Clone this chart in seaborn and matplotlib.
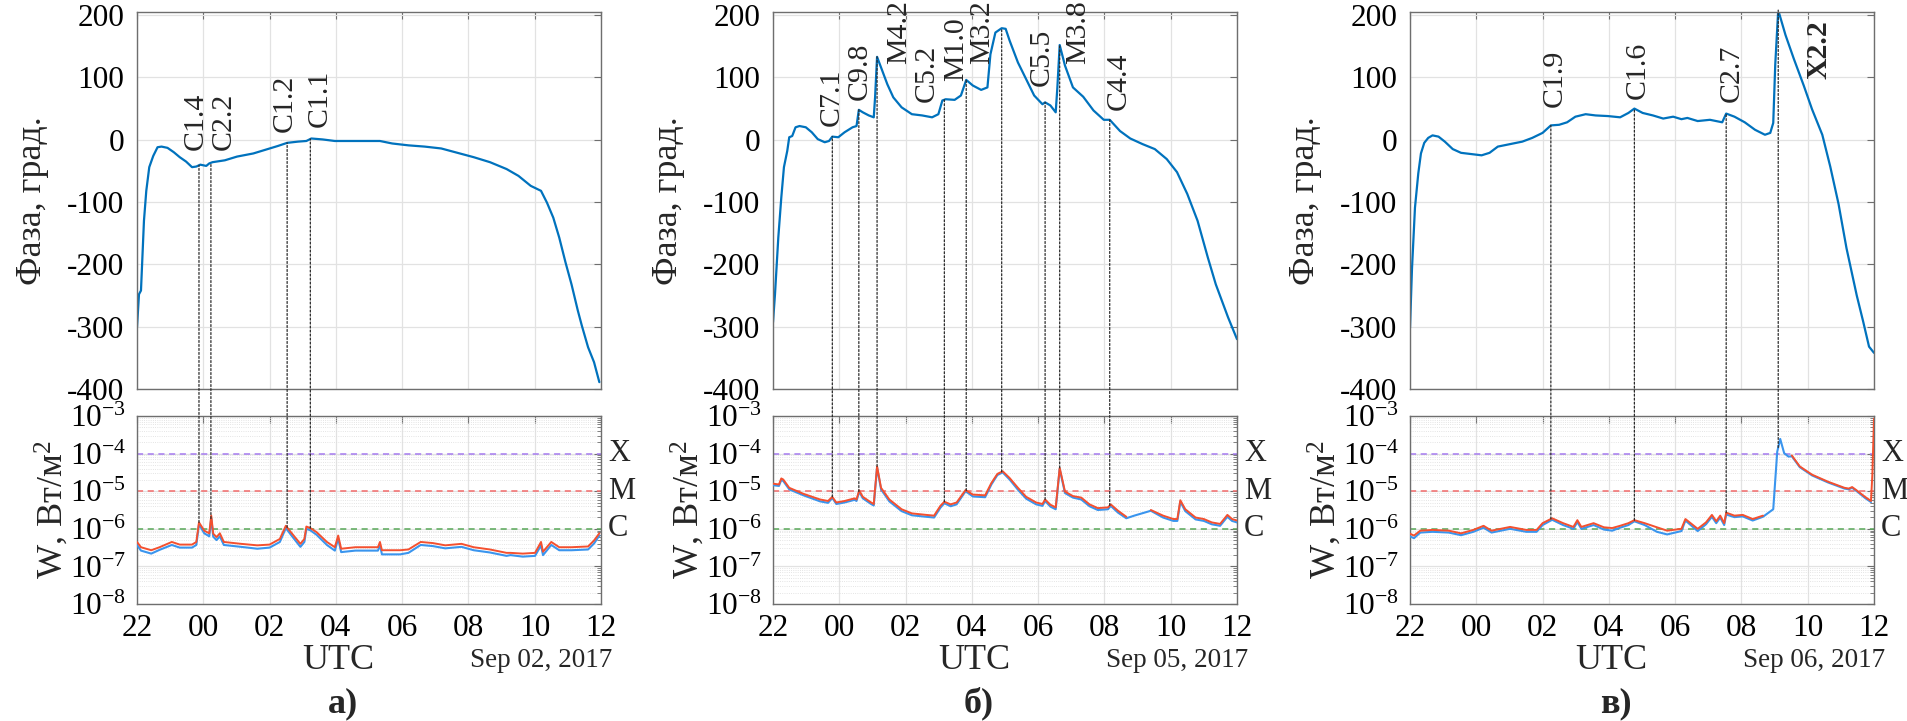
import numpy as np
import pandas as pd
import matplotlib
matplotlib.use("Agg")
import matplotlib.pyplot as plt
import matplotlib.transforms as mtransforms
from matplotlib.patches import ConnectionPatch
from matplotlib.ticker import LogLocator, NullFormatter, LogFormatterMathtext
import seaborn as sns

# ---------------- DATA ----------------
nan = np.nan
# time in hours relative to 00 UTC of the day (22 of previous day = -2)
# Panel a) Sep 02, 2017
a_phase_t = [-2.00,-1.94,-1.88,-1.79,-1.72,-1.63,-1.51,-1.38,-1.26,-1.08,-0.89,-0.71,-0.52,-0.34,-0.21,-0.09,0.09,0.18,0.28,0.65,
             1.02,1.51,1.88,2.25,2.53,2.86,3.11,3.26,3.60,3.97,4.47,4.96,5.33,5.70,6.19,6.68,7.18,7.67,8.16,8.65,
             9.15,9.51,9.88,10.19,10.37,10.56,10.74,10.93,11.11,11.30,11.42,11.61,11.79,11.95]
a_phase = [-301,-248,-242,-130,-82,-44,-26,-12,-11,-13,-20,-28,-35,-44,-43,-40,-42,-38,-36,-33,
           -27,-22,-16,-10,-5,-3,-2,2,0.5,-2,-2,-2,-2,-6,-9,-11,-14,-21,-28,-36,
           -47,-58,-74,-82,-101,-125,-157,-197,-232,-274,-298,-333,-357,-389]
a_flux_t = [-2.00,-1.88,-1.57,-1.32,-0.95,-0.71,-0.34,-0.21,-0.13,0.03,0.18,0.24,0.30,0.40,0.50,0.62,1.14,1.63,2.00,2.31,
            2.49,2.68,2.93,3.05,3.11,3.23,3.42,3.73,3.97,4.07,4.16,4.59,4.96,5.27,5.33,5.39,5.94,6.19,6.56,6.93,
            7.30,7.79,8.16,8.65,9.15,9.27,9.64,10.01,10.19,10.25,10.50,10.74,11.11,11.61,11.79,11.95]
a_flux_long_log = [-6.35,-6.49,-6.57,-6.49,-6.35,-6.42,-6.42,-6.35,-5.83,-6.05,-6.12,-5.65,-6.13,-6.22,-6.12,-6.35,-6.40,-6.44,-6.42,-6.27,
                   -5.92,-6.13,-6.40,-6.27,-5.94,-5.98,-6.09,-6.35,-6.49,-6.18,-6.53,-6.49,-6.49,-6.49,-6.35,-6.57,-6.57,-6.55,-6.35,-6.38,
                   -6.44,-6.40,-6.49,-6.55,-6.64,-6.64,-6.66,-6.64,-6.35,-6.61,-6.35,-6.49,-6.49,-6.47,-6.31,-6.12]
a_flux_short_log = [-6.43,-6.58,-6.66,-6.56,-6.43,-6.50,-6.50,-6.43,-5.88,-6.12,-6.20,-5.72,-6.21,-6.30,-6.20,-6.43,-6.48,-6.53,-6.50,-6.35,
                    -5.98,-6.20,-6.48,-6.35,-6.00,-6.04,-6.16,-6.43,-6.58,-6.26,-6.62,-6.58,-6.58,-6.58,-6.43,-6.68,-6.68,-6.64,-6.43,-6.46,
                    -6.52,-6.48,-6.57,-6.63,-6.72,-6.70,-6.74,-6.72,-6.44,-6.70,-6.43,-6.57,-6.57,-6.55,-6.39,-6.18]
a_flare_names = ["C1.4", "C2.2", "C1.2", "C1.1"]
a_flare_t = [-0.13, 0.23, 2.53, 3.23]

# Panel б) Sep 05, 2017
b_phase_t = [-2.00,-1.94,-1.84,-1.75,-1.67,-1.57,-1.51,-1.42,-1.32,-1.20,-1.01,-0.83,-0.65,-0.44,-0.31,-0.21,-0.03,0.16,0.40,0.52,
             0.59,0.71,0.89,1.04,1.08,1.14,1.26,1.45,1.63,1.88,2.19,2.50,2.80,2.99,3.11,3.21,3.48,3.67,3.83,4.03,
             4.28,4.47,4.56,4.71,4.90,5.02,5.14,5.39,5.64,5.88,6.13,6.21,6.37,6.53,6.58,6.65,6.81,7.05,7.36,7.67,
             7.98,8.16,8.47,8.78,9.15,9.52,9.88,10.19,10.50,10.81,11.12,11.36,11.73,12.00]
b_phase = [-293,-248,-157,-93,-44,-18,4,6,20,22,20,12,1,-4,-2,5,4,12,20,22,
           48,44,39,36,68,133,116,89,68,52,41,39,36,41,63,65,64,71,96,87,
           80,84,137,172,179,178,159,124,97,71,57,60,55,44,84,152,119,84,69,47,
           32,32,14,2,-7,-15,-31,-52,-87,-130,-189,-232,-285,-320]
b_flux_t = [-2.00,-1.82,-1.75,-1.69,-1.51,-1.08,-0.58,-0.34,-0.21,-0.09,0.16,0.46,0.52,0.60,0.71,0.96,1.04,1.14,1.26,1.51,
            1.88,2.19,2.62,2.86,3.05,3.17,3.36,3.54,3.81,4.03,4.40,4.59,4.77,4.93,5.14,5.39,5.64,5.94,6.13,6.21,
            6.37,6.53,6.65,6.81,7.05,7.30,7.55,7.80,8.11,8.19,8.41,8.66,8.90,9.40,9.77,10.08,10.20,10.29,10.44,10.75,
            11.00,11.24,11.49,11.71,11.85,12.00]
b_flux_long_log = [-4.80,-4.82,-4.66,-4.69,-4.91,-5.07,-5.22,-5.26,-5.15,-5.30,-5.26,-5.19,-5.22,-4.98,-5.15,-5.30,-5.34,-4.34,-4.91,-5.22,
                   -5.48,-5.59,-5.63,-5.65,-5.39,-5.28,-5.35,-5.30,-4.97,-5.09,-5.11,-4.78,-4.54,-4.47,-4.65,-4.91,-5.15,-5.30,-5.34,-5.22,
                   -5.36,-5.43,-4.38,-5.01,-5.13,-5.17,-5.35,-5.45,-5.43,-5.35,-5.52,-5.68,nan,-5.50,-5.65,-5.74,-5.74,-5.24,-5.48,-5.70,
                   -5.74,-5.83,-5.87,-5.63,-5.74,-5.78]
b_flux_short_log = [-4.84,-4.86,-4.70,-4.73,-4.95,-5.11,-5.27,-5.31,-5.18,-5.34,-5.30,-5.23,-5.26,-5.01,-5.19,-5.34,-5.38,-4.37,-4.95,-5.27,
                    -5.53,-5.64,-5.68,-5.70,-5.44,-5.32,-5.40,-5.35,-5.00,-5.14,-5.16,-4.82,-4.57,-4.50,-4.69,-4.96,-5.20,-5.35,-5.39,-5.26,
                    -5.41,-5.48,-4.41,-5.05,-5.17,-5.22,-5.40,-5.50,-5.48,-5.39,-5.57,-5.72,-5.65,-5.52,-5.70,-5.79,-5.79,-5.28,-5.53,-5.75,
                    -5.79,-5.88,-5.92,-5.68,-5.79,-5.83]
b_flare_names = ["C7.1", "C9.8", "M4.2", "C5.2", "M1.0", "M3.2", "C5.5", "M3.8", "C4.4"]
b_flare_t = [-0.21, 0.59, 1.14, 3.17, 3.83, 4.90, 6.21, 6.65, 8.16]

# Panel в) Sep 06, 2017
c_phase_t = [-2.00,-1.94,-1.85,-1.75,-1.67,-1.57,-1.45,-1.32,-1.14,-0.95,-0.71,-0.46,-0.15,0.16,0.40,0.65,1.02,1.39,1.69,2.00,
             2.25,2.50,2.74,2.99,3.30,3.60,3.97,4.34,4.59,4.77,5.02,5.33,5.64,5.94,6.19,6.37,6.68,7.05,7.42,7.54,
             7.79,8.10,8.41,8.71,8.87,8.96,9.02,9.11,9.33,9.58,9.88,10.13,10.44,10.68,10.93,11.17,11.48,11.67,11.85,12.00]
c_phase = [-302,-207,-109,-54,-22,-5,3,7,5,-3,-15,-21,-23,-25,-21,-11,-7,-3,3,11,
           23,24,28,37,41,39,38,36,43,50,43,39,34,37,33,35,30,32,28,42,
           37,28,16,8,11,27,120,208,168,130,87,49,8,-43,-103,-174,-250,-291,-332,-342]
c_flux_t = [-2.00,-1.88,-1.69,-1.32,-0.83,-0.46,-0.09,0.22,0.46,1.02,1.51,1.82,2.00,2.29,2.62,2.93,3.05,3.17,3.54,3.85,
            4.10,4.34,4.59,4.77,5.08,5.45,5.76,6.19,6.31,6.68,6.93,7.11,7.24,7.36,7.48,7.54,7.79,8.04,8.34,8.65,
            8.96,9.08,9.17,9.29,9.42,9.52,9.76,10.13,10.62,11.11,11.24,11.34,11.48,11.73,11.91,11.95,12.00]
c_flux_long_log = [-6.13,-6.18,-6.05,-6.03,-6.05,-6.12,-6.03,-5.92,-6.05,-5.95,-6.03,-6.03,-5.85,-5.72,-5.85,-5.95,-5.77,-5.95,-5.85,-5.96,
                   -5.98,-5.92,-5.85,-5.77,-5.85,-5.96,-6.05,-6.00,-5.74,-6.00,-5.83,-5.63,-5.80,-5.65,-5.85,-5.57,-5.65,-5.63,-5.74,-5.65,
                   nan,nan,nan,nan,nan,-4.05,-4.34,-4.56,-4.75,-4.91,-4.93,-4.89,-4.98,-5.15,-5.26,-4.56,-3.07]
c_flux_short_log = [-6.20,-6.25,-6.10,-6.08,-6.10,-6.17,-6.08,-5.97,-6.10,-6.00,-6.08,-6.08,-5.90,-5.76,-5.90,-6.00,-5.82,-6.00,-5.90,-6.02,
                    -6.05,-5.97,-5.90,-5.80,-5.90,-6.08,-6.15,-6.06,-5.78,-6.06,-5.88,-5.68,-5.85,-5.70,-5.90,-5.62,-5.69,-5.67,-5.78,-5.68,
                    -5.48,-3.95,-3.61,-3.99,-4.08,-4.07,-4.36,-4.58,-4.77,-4.93,-4.95,-4.91,-5.00,-5.18,-5.29,nan,nan]
c_flare_names = ["C1.9", "C1.6", "C2.7", "X2.2"]
c_flare_t = [2.25, 4.77, 7.54, 9.11]

panel_letters = ["а)", "б)", "в)"]
panel_dates = ["Sep 02, 2017", "Sep 05, 2017", "Sep 06, 2017"]
hour_ticks = [-2, 0, 2, 4, 6, 8, 10, 12]
hour_labels = ["22", "00", "02", "04", "06", "08", "10", "12"]
phase_ticks = [-400, -300, -200, -100, 0, 100, 200]
class_levels = [1e-4, 1e-5, 1e-6]
class_names = ["X", "M", "C"]

# ---------------- LAYOUT / STYLE ----------------
# label offsets (hours, degrees) relative to flare time / phase value
label_offsets = [
    [(0.10, 24), (0.60, 20), (0.15, 17), (0.50, 20)],
    [(0.18, 17), (0.24, 15), (0.89, -11), (-0.31, -4), (-0.10, -2), (-0.37, -58), (0.10, 27), (0.77, -31), (0.49, 15)],
    [(0.34, 29), (0.31, 15), (0.37, 18), (1.45, -110)],
]
bold_labels = {"X2.2"}

sns.set_theme(style="white")
plt.rcParams["font.family"] = ["Liberation Serif", "DejaVu Serif"]
plt.rcParams["mathtext.fontset"] = "custom"
plt.rcParams["mathtext.rm"] = "Liberation Serif"
plt.rcParams["mathtext.it"] = "Liberation Serif:italic"
plt.rcParams["mathtext.bf"] = "Liberation Serif:bold"
plt.rcParams["axes.unicode_minus"] = False

PHASE_C = "#0072BD"
LONG_C = "#F4502F"
SHORT_C = "#3A95EE"
CLASS_C = ["#A57AF0", "#F26A6A", "#58A858"]
SPINE_C = "#6E6E6E"
GRID_C = "#E2E2E2"
TICK_FS = 22.5

FW, FH = 1907, 721
fig = plt.figure(figsize=(FW / 100, FH / 100), dpi=100)
lefts = [137, 773, 1410]
AW = 464
TOP_Y0, TOP_Y1 = 12, 389
LOW_Y0, LOW_Y1 = 416, 604

panels = [
    (a_phase_t, a_phase, a_flux_t, a_flux_long_log, a_flux_short_log, a_flare_names, a_flare_t),
    (b_phase_t, b_phase, b_flux_t, b_flux_long_log, b_flux_short_log, b_flare_names, b_flare_t),
    (c_phase_t, c_phase, c_flux_t, c_flux_long_log, c_flux_short_log, c_flare_names, c_flare_t),
]


def style_axes(ax):
    for s in ax.spines.values():
        s.set_color(SPINE_C)
        s.set_linewidth(1.0)
        s.set_visible(True)
    ax.tick_params(which="both", direction="in", top=True, right=True, colors=SPINE_C,
                   labelcolor="black", labelsize=TICK_FS)
    ax.tick_params(which="major", length=5, width=0.8)
    ax.tick_params(which="minor", length=3, width=0.6)


def segments(t, v):
    t = np.asarray(t, float)
    v = np.asarray(v, float)
    seg = np.cumsum(np.isnan(v))
    df = pd.DataFrame({"t": t, "v": 10.0 ** v, "seg": seg})
    df = df[~np.isnan(v)]
    return [g for _, g in df.groupby("seg")]


for i, (pt, ph, ft, flong, fshort, fnames, ftimes) in enumerate(panels):
    l = lefts[i]
    ax_t = fig.add_axes([l / FW, (FH - TOP_Y1) / FH, AW / FW, (TOP_Y1 - TOP_Y0) / FH])
    ax_l = fig.add_axes([l / FW, (FH - LOW_Y1) / FH, AW / FW, (LOW_Y1 - LOW_Y0) / FH])

    # ---- phase panel ----
    dfp = pd.DataFrame({"t": pt, "phase": ph})
    sns.lineplot(data=dfp, x="t", y="phase", ax=ax_t, color=PHASE_C, lw=1.6,
                 estimator=None, sort=False)
    ax_t.set_xlim(-2, 12)
    ax_t.set_ylim(-400, 205)
    ax_t.set_xticks(hour_ticks)
    ax_t.set_xticklabels([])
    ax_t.set_yticks(phase_ticks)
    ax_t.set_yticklabels([str(v) for v in phase_ticks])
    ax_t.set_xlabel("")
    ax_t.set_ylabel("")
    ax_t.grid(True, color=GRID_C, lw=0.9)
    style_axes(ax_t)
    ax_t.tick_params(axis="y", pad=9)
    ax_t.text(-0.226, 0.5, "Фаза, град.", transform=ax_t.transAxes, rotation=90,
              ha="center", va="center", fontsize=26)

    # ---- flux panel ----
    ax_l.set_yscale("log")
    for lev, cc in zip(class_levels, CLASS_C):
        ax_l.axhline(lev, color=cc, ls=(0, (4, 3)), lw=1.1, zorder=2)
    for g in segments(ft, fshort):
        sns.lineplot(data=g, x="t", y="v", ax=ax_l, color=SHORT_C, lw=1.5,
                     estimator=None, sort=False, zorder=3)
    for g in segments(ft, flong):
        sns.lineplot(data=g, x="t", y="v", ax=ax_l, color=LONG_C, lw=1.4,
                     estimator=None, sort=False, zorder=4)
    ax_l.set_xlim(-2, 12)
    ax_l.set_ylim(1e-8, 1e-3)
    ax_l.set_xticks(hour_ticks)
    ax_l.set_xticklabels(hour_labels)
    ax_l.yaxis.set_major_locator(LogLocator(base=10, numticks=10))
    ax_l.yaxis.set_minor_locator(LogLocator(base=10, subs=np.arange(2, 10), numticks=20))
    ax_l.yaxis.set_major_formatter(LogFormatterMathtext())
    ax_l.yaxis.set_minor_formatter(NullFormatter())
    ax_l.set_xlabel("")
    ax_l.set_ylabel("")
    ax_l.grid(True, which="major", color=GRID_C, lw=0.9)
    ax_l.grid(True, which="minor", color="#DCDCDC", lw=0.6, ls=":")
    style_axes(ax_l)
    ax_l.tick_params(axis="y", pad=8)
    ax_l.tick_params(axis="x", pad=7)
    ax_l.text(-0.183, 0.5, r"W, Вт/м$^2$", transform=ax_l.transAxes, rotation=90,
              ha="center", va="center", fontsize=26)
    trans = mtransforms.blended_transform_factory(ax_l.transAxes, ax_l.transData)
    for lev, nm in zip(class_levels, class_names):
        ax_l.text(1.015, lev, nm, transform=trans, ha="left", va="center", fontsize=22)
    ax_l.text(0.433, -0.30, "UTC", transform=ax_l.transAxes, ha="center", va="center", fontsize=26)
    ax_l.text(1.024, -0.30, panel_dates[i], transform=ax_l.transAxes, ha="right", va="center",
              fontsize=19.5)
    ax_l.text(0.443, -0.53, panel_letters[i], transform=ax_l.transAxes, ha="center", va="center",
              fontsize=26, fontweight="bold")

    # ---- flare markers ----
    ft_arr = np.asarray(ft, float)
    comb = np.fmax(np.asarray(flong, float), np.asarray(fshort, float))
    ok = ~np.isnan(comb)
    for k, (nm, tt) in enumerate(zip(fnames, ftimes)):
        flux_at = 10.0 ** np.interp(tt, ft_arr[ok], comb[ok])
        phase_at = np.interp(tt, pt, ph)
        con = ConnectionPatch(xyA=(tt, flux_at), coordsA=ax_l.transData,
                              xyB=(tt, phase_at), coordsB=ax_t.transData,
                              color="#2a2a2a", lw=0.9, ls=(0, (1.6, 1.6)))
        fig.add_artist(con)
        dx, dy = label_offsets[i][k]
        ax_t.text(tt + dx, phase_at + dy, nm, rotation=90, rotation_mode="anchor",
                  ha="left", va="baseline", fontsize=21.5, clip_on=False,
                  fontweight="bold" if nm in bold_labels else "normal")

fig.savefig("out.png", dpi=100, facecolor="white")
